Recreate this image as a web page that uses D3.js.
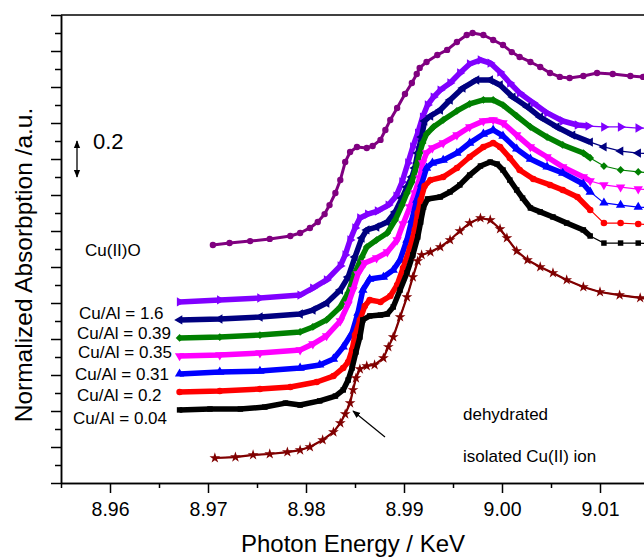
<!DOCTYPE html>
<html>
<head>
<meta charset="utf-8">
<script src="https://cdn.jsdelivr.net/npm/d3@7/dist/d3.min.js"></script>
<style>
body { margin: 0; background: #fff; }
svg { display: block; font-family: "Liberation Sans", Arial, sans-serif; }
</style>
</head>
<body>
<div class="chart"></div>
<script>
// Spectra: [photon energy / keV, normalized absorption / a.u. incl. offset]
const cuIIO = [[8.9705,1.322],[8.9722,1.333],[8.9743,1.344],[8.9763,1.356],[8.9784,1.372],[8.9794,1.389],[8.9804,1.417],[8.9812,1.450],[8.9819,1.494],[8.9824,1.544],[8.9830,1.611],[8.9835,1.683],[8.9840,1.783],[8.9845,1.839],[8.9852,1.867],[8.9862,1.861],[8.9868,1.872],[8.9876,1.906],[8.9881,1.961],[8.9886,2.017],[8.9893,2.083],[8.9901,2.161],[8.9908,2.222],[8.9913,2.272],[8.9916,2.306],[8.9923,2.339],[8.9934,2.378],[8.9944,2.406],[8.9954,2.450],[8.9964,2.489],[8.9970,2.500],[8.9981,2.489],[8.9991,2.461],[9.0001,2.433],[9.0010,2.394],[9.0018,2.367],[9.0029,2.339],[9.0039,2.311],[9.0049,2.278],[9.0059,2.256],[9.0069,2.250],[9.0083,2.261],[9.0097,2.278],[9.0113,2.272],[9.0131,2.261],[9.0144,2.256],[9.0161,2.256]]
const violet = [[8.9671,1.006],[8.9712,1.017],[8.9753,1.028],[8.9794,1.044],[8.9807,1.083],[8.9821,1.128],[8.9835,1.206],[8.9840,1.267],[8.9845,1.350],[8.9850,1.417],[8.9855,1.472],[8.9863,1.494],[8.9873,1.511],[8.9884,1.544],[8.9892,1.594],[8.9898,1.672],[8.9904,1.778],[8.9909,1.867],[8.9914,1.944],[8.9919,2.033],[8.9924,2.100],[8.9930,2.144],[8.9937,2.183],[8.9947,2.222],[8.9957,2.278],[8.9967,2.328],[8.9978,2.350],[8.9988,2.333],[8.9998,2.283],[9.0008,2.222],[9.0018,2.167],[9.0032,2.111],[9.0046,2.056],[9.0062,2.011],[9.0077,1.989],[9.0088,1.983],[9.0104,1.978],[9.0121,1.978],[9.0139,1.972],[9.0156,1.972]]
const navy = [[8.9671,0.906],[8.9712,0.911],[8.9753,0.922],[8.9794,0.939],[8.9807,0.961],[8.9821,1.000],[8.9835,1.072],[8.9843,1.144],[8.9850,1.256],[8.9857,1.361],[8.9862,1.406],[8.9872,1.422],[8.9883,1.450],[8.9891,1.506],[8.9898,1.583],[8.9903,1.644],[8.9908,1.700],[8.9911,1.750],[8.9914,1.833],[8.9918,1.922],[8.9921,2.011],[8.9927,2.039],[8.9937,2.072],[8.9947,2.128],[8.9960,2.194],[8.9974,2.239],[8.9988,2.239],[8.9998,2.211],[9.0011,2.144],[9.0026,2.089],[9.0039,2.033],[9.0056,1.978],[9.0072,1.933],[9.0090,1.894],[9.0104,1.867],[9.0121,1.844],[9.0139,1.833],[9.0156,1.828]]
const green = [[8.9671,0.806],[8.9712,0.811],[8.9753,0.822],[8.9794,0.839],[8.9807,0.867],[8.9821,0.906],[8.9835,0.978],[8.9843,1.056],[8.9850,1.167],[8.9857,1.256],[8.9862,1.311],[8.9872,1.350],[8.9883,1.389],[8.9891,1.461],[8.9898,1.544],[8.9903,1.611],[8.9908,1.672],[8.9913,1.767],[8.9916,1.833],[8.9919,1.889],[8.9923,1.939],[8.9930,1.978],[8.9940,2.017],[8.9954,2.067],[8.9967,2.106],[8.9981,2.128],[8.9991,2.128],[9.0001,2.100],[9.0015,2.039],[9.0029,1.978],[9.0046,1.922],[9.0062,1.878],[9.0083,1.833],[9.0090,1.806],[9.0104,1.761],[9.0121,1.739],[9.0139,1.728],[9.0156,1.722]]
const magenta = [[8.9671,0.706],[8.9712,0.711],[8.9753,0.722],[8.9794,0.739],[8.9807,0.772],[8.9821,0.817],[8.9835,0.900],[8.9843,0.994],[8.9848,1.072],[8.9853,1.161],[8.9860,1.222],[8.9872,1.250],[8.9883,1.283],[8.9893,1.350],[8.9899,1.439],[8.9906,1.533],[8.9911,1.611],[8.9916,1.694],[8.9919,1.778],[8.9923,1.833],[8.9929,1.861],[8.9940,1.889],[8.9954,1.933],[8.9967,1.978],[8.9981,2.011],[8.9991,2.017],[9.0001,2.000],[9.0015,1.933],[9.0029,1.867],[9.0046,1.811],[9.0062,1.756],[9.0083,1.700],[9.0090,1.678],[9.0104,1.656],[9.0121,1.644],[9.0139,1.633],[9.0156,1.628]]
const blue = [[8.9671,0.606],[8.9712,0.617],[8.9753,0.622],[8.9794,0.639],[8.9814,0.656],[8.9828,0.689],[8.9838,0.756],[8.9847,0.833],[8.9853,0.944],[8.9858,1.072],[8.9865,1.133],[8.9879,1.144],[8.9889,1.183],[8.9896,1.239],[8.9903,1.350],[8.9908,1.461],[8.9913,1.572],[8.9918,1.661],[8.9923,1.750],[8.9929,1.778],[8.9940,1.794],[8.9954,1.833],[8.9967,1.889],[8.9981,1.939],[8.9991,1.961],[9.0001,1.928],[9.0015,1.856],[9.0029,1.800],[9.0046,1.756],[9.0062,1.722],[9.0083,1.661],[9.0090,1.617],[9.0104,1.556],[9.0121,1.544],[9.0139,1.533],[9.0156,1.528]]
const red = [[8.9671,0.506],[8.9712,0.511],[8.9753,0.522],[8.9784,0.533],[8.9811,0.561],[8.9828,0.594],[8.9838,0.639],[8.9843,0.672],[8.9847,0.739],[8.9850,0.822],[8.9855,0.906],[8.9860,0.983],[8.9865,1.017],[8.9876,1.006],[8.9886,1.039],[8.9893,1.100],[8.9899,1.194],[8.9906,1.306],[8.9911,1.406],[8.9914,1.500],[8.9917,1.572],[8.9921,1.650],[8.9927,1.683],[8.9940,1.700],[8.9954,1.750],[8.9967,1.811],[8.9981,1.867],[8.9991,1.889],[8.9998,1.867],[9.0008,1.806],[9.0018,1.739],[9.0032,1.689],[9.0049,1.656],[9.0062,1.628],[9.0077,1.589],[9.0090,1.517],[9.0104,1.444],[9.0121,1.444],[9.0139,1.439],[9.0156,1.433]]
const black = [[8.9671,0.406],[8.9702,0.411],[8.9733,0.411],[8.9758,0.422],[8.9779,0.444],[8.9794,0.433],[8.9814,0.456],[8.9830,0.483],[8.9838,0.517],[8.9843,0.572],[8.9847,0.639],[8.9851,0.728],[8.9855,0.811],[8.9858,0.906],[8.9865,0.928],[8.9876,0.933],[8.9883,0.939],[8.9889,0.978],[8.9896,1.072],[8.9903,1.167],[8.9909,1.267],[8.9914,1.367],[8.9917,1.450],[8.9920,1.533],[8.9924,1.578],[8.9937,1.589],[8.9947,1.617],[8.9957,1.656],[8.9967,1.711],[8.9978,1.761],[8.9988,1.783],[8.9995,1.772],[9.0001,1.739],[9.0008,1.683],[9.0015,1.628],[9.0021,1.583],[9.0029,1.528],[9.0039,1.506],[9.0052,1.478],[9.0066,1.444],[9.0083,1.406],[9.0090,1.372],[9.0104,1.333],[9.0121,1.333],[9.0139,1.333],[9.0156,1.328]]
const isolated = [[8.9707,0.139],[8.9728,0.144],[8.9746,0.156],[8.9763,0.161],[8.9781,0.172],[8.9794,0.183],[8.9804,0.200],[8.9817,0.239],[8.9828,0.283],[8.9835,0.333],[8.9840,0.383],[8.9845,0.444],[8.9848,0.517],[8.9851,0.583],[8.9855,0.633],[8.9862,0.650],[8.9870,0.656],[8.9879,0.694],[8.9884,0.756],[8.9889,0.811],[8.9896,0.922],[8.9903,1.033],[8.9909,1.144],[8.9914,1.233],[8.9918,1.267],[8.9927,1.283],[8.9937,1.311],[8.9947,1.350],[8.9957,1.400],[8.9967,1.444],[8.9978,1.472],[8.9988,1.461],[8.9998,1.411],[9.0005,1.361],[9.0015,1.289],[9.0026,1.239],[9.0039,1.200],[9.0052,1.167],[9.0066,1.128],[9.0083,1.089],[9.0100,1.061],[9.0120,1.044],[9.0141,1.028],[9.0161,1.017]]

const ratioLabels = ["Cu/Al = 1.6", "Cu/Al = 0.39", "Cu/Al = 0.35", "Cu/Al = 0.31", "Cu/Al = 0.2", "Cu/Al = 0.04"]
const xMajor = [8.96, 8.97, 8.98, 8.99, 9.00, 9.01]
const xMinor = [8.955, 8.965, 8.975, 8.985, 8.995, 9.005, 9.015]

const width = 644
const height = 558
const x = d3.scaleLinear().domain([8.955, 9.02]).range([61, 698])
const y = d3.scaleLinear().domain([0, 2.6]).range([483, 15])

const svg = d3.select(".chart").append("svg")
    .attr("width", width)
    .attr("height", height)
    .attr("viewBox", [0, 0, width, height])

const defs = svg.append("defs")
defs.append("clipPath").attr("id", "plot")
    .append("rect").attr("x", 61).attr("y", 8).attr("width", 700).attr("height", 476)

defs.append("marker").attr("id", "head")
    .attr("viewBox", "0 0 10 10").attr("refX", 9).attr("refY", 5)
    .attr("markerWidth", 8).attr("markerHeight", 8)
    .attr("markerUnits", "userSpaceOnUse")
    .attr("orient", "auto-start-reverse")
  .append("path").attr("d", "M0,1 L10,5 L0,9 Z").attr("fill", "#000")

// series: line colour, marker shape, and where the dense sampling stops
const series = [
    {data: cuIIO, color: "#800080", symbol: d3.symbolCircle, rot: 0, size: 32, denseTo: 9.02, band: 3},
    {data: violet, color: "#8000ff", symbol: d3.symbolTriangle, rot: 90, size: 38, denseTo: 9.0091, band: 5.5},
    {data: navy, color: "#000080", symbol: d3.symbolTriangle, rot: -90, size: 38, denseTo: 9.0091, band: 5.5},
    {data: green, color: "#008000", symbol: d3.symbolSquare, rot: 45, size: 30, denseTo: 9.0091, band: 5.5},
    {data: magenta, color: "#ff00ff", symbol: d3.symbolTriangle, rot: 180, size: 38, denseTo: 9.0091, band: 5.5},
    {data: blue, color: "#0000ff", symbol: d3.symbolTriangle, rot: 0, size: 38, denseTo: 9.0091, band: 5.5},
    {data: red, color: "#ff0000", symbol: d3.symbolCircle, rot: 0, size: 34, denseTo: 9.0091, band: 5.5},
    {data: black, color: "#000000", symbol: d3.symbolSquare, rot: 0, size: 30, denseTo: 9.0091, band: 5.5},
    {data: isolated, color: "#800000", symbol: d3.symbolStar, rot: 0, size: 36, denseTo: 9.02, band: 2.2}
]

const line = d3.line().x(d => x(d[0])).y(d => y(d[1]))

const plot = svg.append("g").attr("clip-path", "url(#plot)")

series.forEach(s => {
    const g = plot.append("g")
    g.append("path")
        .attr("d", line(s.data))
        .attr("fill", "none")
        .attr("stroke", s.color)
        .attr("stroke-width", 1.2)
    g.append("path")
        .attr("d", line(s.data.filter(d => d[0] <= s.denseTo)))
        .attr("fill", "none")
        .attr("stroke", s.color)
        .attr("stroke-width", s.band)
        .attr("stroke-linejoin", "round")
    g.selectAll("path.pt")
        .data(s.data)
        .join("path")
            .attr("class", "pt")
            .attr("d", d3.symbol().type(s.symbol).size(s.size))
            .attr("transform", d => `translate(${x(d[0])},${y(d[1])}) rotate(${s.rot})`)
            .attr("fill", s.color)
})

// axes
const xAxis = svg.append("g").attr("transform", `translate(0,${y(0)})`)
xAxis.call(d3.axisBottom(x).tickValues(xMajor).tickSize(10).tickSizeOuter(0).tickPadding(9).tickFormat(d3.format(".2f")))
xAxis.append("g").call(d3.axisBottom(x).tickValues(xMinor).tickSize(5).tickSizeOuter(0).tickFormat(""))
xAxis.selectAll("text").attr("font-size", 19.5).attr("font-family", "Liberation Sans, Arial, sans-serif").attr("fill", "#000")

const yMajor = d3.range(0, 2.61, 0.2)
const yMinor = d3.range(0.1, 2.6, 0.2)
const yAxis = svg.append("g").attr("transform", `translate(${x(8.955)},0)`)
yAxis.call(d3.axisLeft(y).tickValues(yMajor).tickSize(10).tickSizeOuter(0).tickFormat(""))
yAxis.append("g").call(d3.axisLeft(y).tickValues(yMinor).tickSize(6).tickSizeOuter(0).tickFormat(""))

svg.selectAll(".domain, .tick line").attr("stroke", "#000").attr("stroke-width", 1.5)

// top frame line
svg.append("line")
    .attr("x1", x(8.955)).attr("x2", width)
    .attr("y1", y(2.6)).attr("y2", y(2.6))
    .attr("stroke", "#000").attr("stroke-width", 1.5)

// axis titles
svg.append("text")
    .attr("x", 353).attr("y", 552)
    .attr("text-anchor", "middle")
    .attr("font-size", 24)
    .text("Photon Energy / KeV")

svg.append("text")
    .attr("transform", "translate(32,265) rotate(-90)")
    .attr("text-anchor", "middle")
    .attr("font-size", 24.5)
    .text("Normalized Absorbption /a.u.")

// scale bar 0.2
svg.append("line")
    .attr("x1", 77).attr("x2", 77)
    .attr("y1", y(1.9)).attr("y2", y(1.7))
    .attr("stroke", "#000").attr("stroke-width", 1.3)
    .attr("marker-start", "url(#head)").attr("marker-end", "url(#head)")
svg.append("text").attr("x", 93).attr("y", 149).attr("font-size", 22).text("0.2")

// annotations
svg.append("text").attr("x", 85).attr("y", 256).attr("font-size", 17).text("Cu(II)O")

const labelX = [79, 77, 78, 75, 77, 73]
const labelY = [319, 339, 358, 380, 401, 424]
svg.append("g").selectAll("text")
    .data(ratioLabels)
    .join("text")
        .attr("x", (d, i) => labelX[i])
        .attr("y", (d, i) => labelY[i])
        .attr("font-size", 17)
        .text(d => d)

svg.append("text").attr("x", 463).attr("y", 420).attr("font-size", 17).text("dehydrated")
svg.append("text").attr("x", 463).attr("y", 462).attr("font-size", 17).text("isolated Cu(II) ion")

svg.append("line")
    .attr("x1", 385).attr("y1", 437)
    .attr("x2", 353).attr("y2", 411)
    .attr("stroke", "#000").attr("stroke-width", 1.2)
    .attr("marker-end", "url(#head)")
</script>
</body>
</html>
